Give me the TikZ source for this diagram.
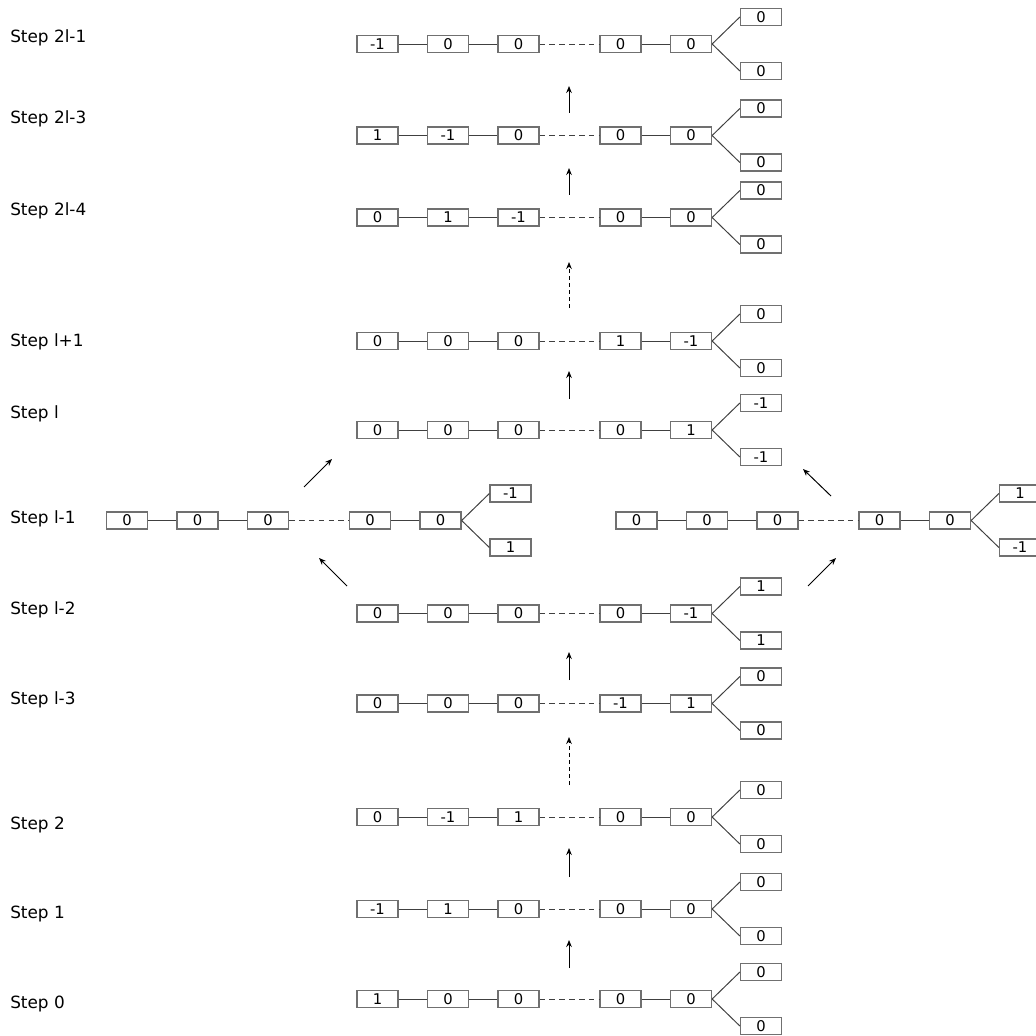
\documentclass[tikz,border=0pt]{standalone}
\usepackage{fontspec}
\setmainfont{DejaVu Sans}
\usetikzlibrary{arrows.meta}
\definecolor{cellgray}{HTML}{707070}
\definecolor{linkgray}{HTML}{404040}
\tikzset{
  cell/.style={draw=cellgray, line width=0.9pt, minimum width=1.025cm,
               minimum height=0.42cm, inner sep=0pt,
               font=\fontsize{10.5}{12}\selectfont},
  link/.style={draw=linkgray, line width=0.7pt},
  gap/.style={link, dash pattern=on 4pt off 3pt},
  move/.style={draw=black, line width=0.7pt, -{Stealth[length=5pt,width=4pt]}},
  skip/.style={move, dash pattern=on 3pt off 2pt},
  steplabel/.style={anchor=west, inner sep=0pt, font=\fontsize{12}{14}\selectfont}
}
% one configuration: name, shift, five chain cells, upper and lower leaf
\newcommand{\chainrow}[9]{%
  \begin{scope}[shift={#2}]
    \node[cell] (#1a) at (0,0) {#3};
    \node[cell] (#1b) at (70.5,0) {#4};
    \node[cell] (#1c) at (141,0) {#5};
    \node[cell] (#1d) at (243,0) {#6};
    \node[cell] (#1e) at (313.5,0) {#7};
    \node[cell] (#1u) at (383.5,-27) {#8};
    \node[cell] (#1w) at (383.5,27) {#9};
  \end{scope}
  \draw[link] (#1a) -- (#1b) -- (#1c);
  \draw[gap] (#1c) -- (#1d);
  \draw[link] (#1d) -- (#1e);
  \draw[link] (#1e.east) -- (#1u.west);
  \draw[link] (#1e.east) -- (#1w.west);
}

\begin{document}
\begin{tikzpicture}[x=0.025cm, y=-0.025cm]
  \useasboundingbox (0,0) rectangle (1036,1036);

  % step labels
  \node[steplabel] (lab2lmi) at (10,38) {Step 2l-1};
  \node[steplabel] (lab2lmiii) at (10,119) {Step 2l-3};
  \node[steplabel] (lab2lmiv) at (10,211) {Step 2l-4};
  \node[steplabel] (lablpi) at (10,342) {Step l+1};
  \node[steplabel] (labl) at (10,414) {Step l};
  \node[steplabel] (lablmi) at (10,519) {Step l-1};
  \node[steplabel] (lablmii) at (10,610) {Step l-2};
  \node[steplabel] (lablmiii) at (10,700) {Step l-3};
  \node[steplabel] (labii) at (10,825) {Step 2};
  \node[steplabel] (labi) at (10,914) {Step 1};
  \node[steplabel] (lab0) at (10,1004) {Step 0};

  % configurations
  \chainrow{st2lmi}{(377.5,44)}{-1}{0}{0}{0}{0}{0}{0}
  \chainrow{st2lmiii}{(377.5,135.5)}{1}{-1}{0}{0}{0}{0}{0}
  \chainrow{st2lmiv}{(377.5,217.5)}{0}{1}{-1}{0}{0}{0}{0}
  \chainrow{stlpi}{(377.5,341)}{0}{0}{0}{1}{-1}{0}{0}
  \chainrow{stl}{(377.5,430)}{0}{0}{0}{0}{1}{-1}{-1}
  \chainrow{stlmiL}{(127,520.5)}{0}{0}{0}{0}{0}{-1}{1}
  \chainrow{stlmiR}{(636.5,520.5)}{0}{0}{0}{0}{0}{1}{-1}
  \chainrow{stlmii}{(377.5,613.5)}{0}{0}{0}{0}{-1}{1}{1}
  \chainrow{stlmiii}{(377.5,703.5)}{0}{0}{0}{-1}{1}{0}{0}
  \chainrow{stii}{(377.5,817)}{0}{-1}{1}{0}{0}{0}{0}
  \chainrow{sti}{(377.5,909)}{-1}{1}{0}{0}{0}{0}{0}
  \chainrow{st0}{(377.5,999)}{1}{0}{0}{0}{0}{0}{0}

  % arrow ends
  \coordinate (m0s) at (569,968);     \coordinate (m0e) at (569,940);
  \coordinate (m1s) at (569,877);     \coordinate (m1e) at (569,848);
  \coordinate (m2s) at (569,785);     \coordinate (m2e) at (569,737);
  \coordinate (m3s) at (569,680);     \coordinate (m3e) at (569,652);
  \coordinate (mLis) at (347,586);    \coordinate (mLie) at (319,558);
  \coordinate (mRis) at (808,586);    \coordinate (mRie) at (836,558);
  \coordinate (mLos) at (304,487);    \coordinate (mLoe) at (332,459);
  \coordinate (mRos) at (831,496);    \coordinate (mRoe) at (803,469);
  \coordinate (m4s) at (569,399);     \coordinate (m4e) at (569,371);
  \coordinate (m5s) at (569,308);     \coordinate (m5e) at (569,262);
  \coordinate (m6s) at (569,195);     \coordinate (m6e) at (569,168);
  \coordinate (m7s) at (569,113);     \coordinate (m7e) at (569,86);

  % moves
  \draw[move] (m0s) -- (m0e);
  \draw[move] (m1s) -- (m1e);
  \draw[skip] (m2s) -- (m2e);
  \draw[move] (m3s) -- (m3e);
  \draw[move] (mLis) -- (mLie);
  \draw[move] (mRis) -- (mRie);
  \draw[move] (mLos) -- (mLoe);
  \draw[move] (mRos) -- (mRoe);
  \draw[move] (m4s) -- (m4e);
  \draw[skip] (m5s) -- (m5e);
  \draw[move] (m6s) -- (m6e);
  \draw[move] (m7s) -- (m7e);
\end{tikzpicture}
\end{document}
